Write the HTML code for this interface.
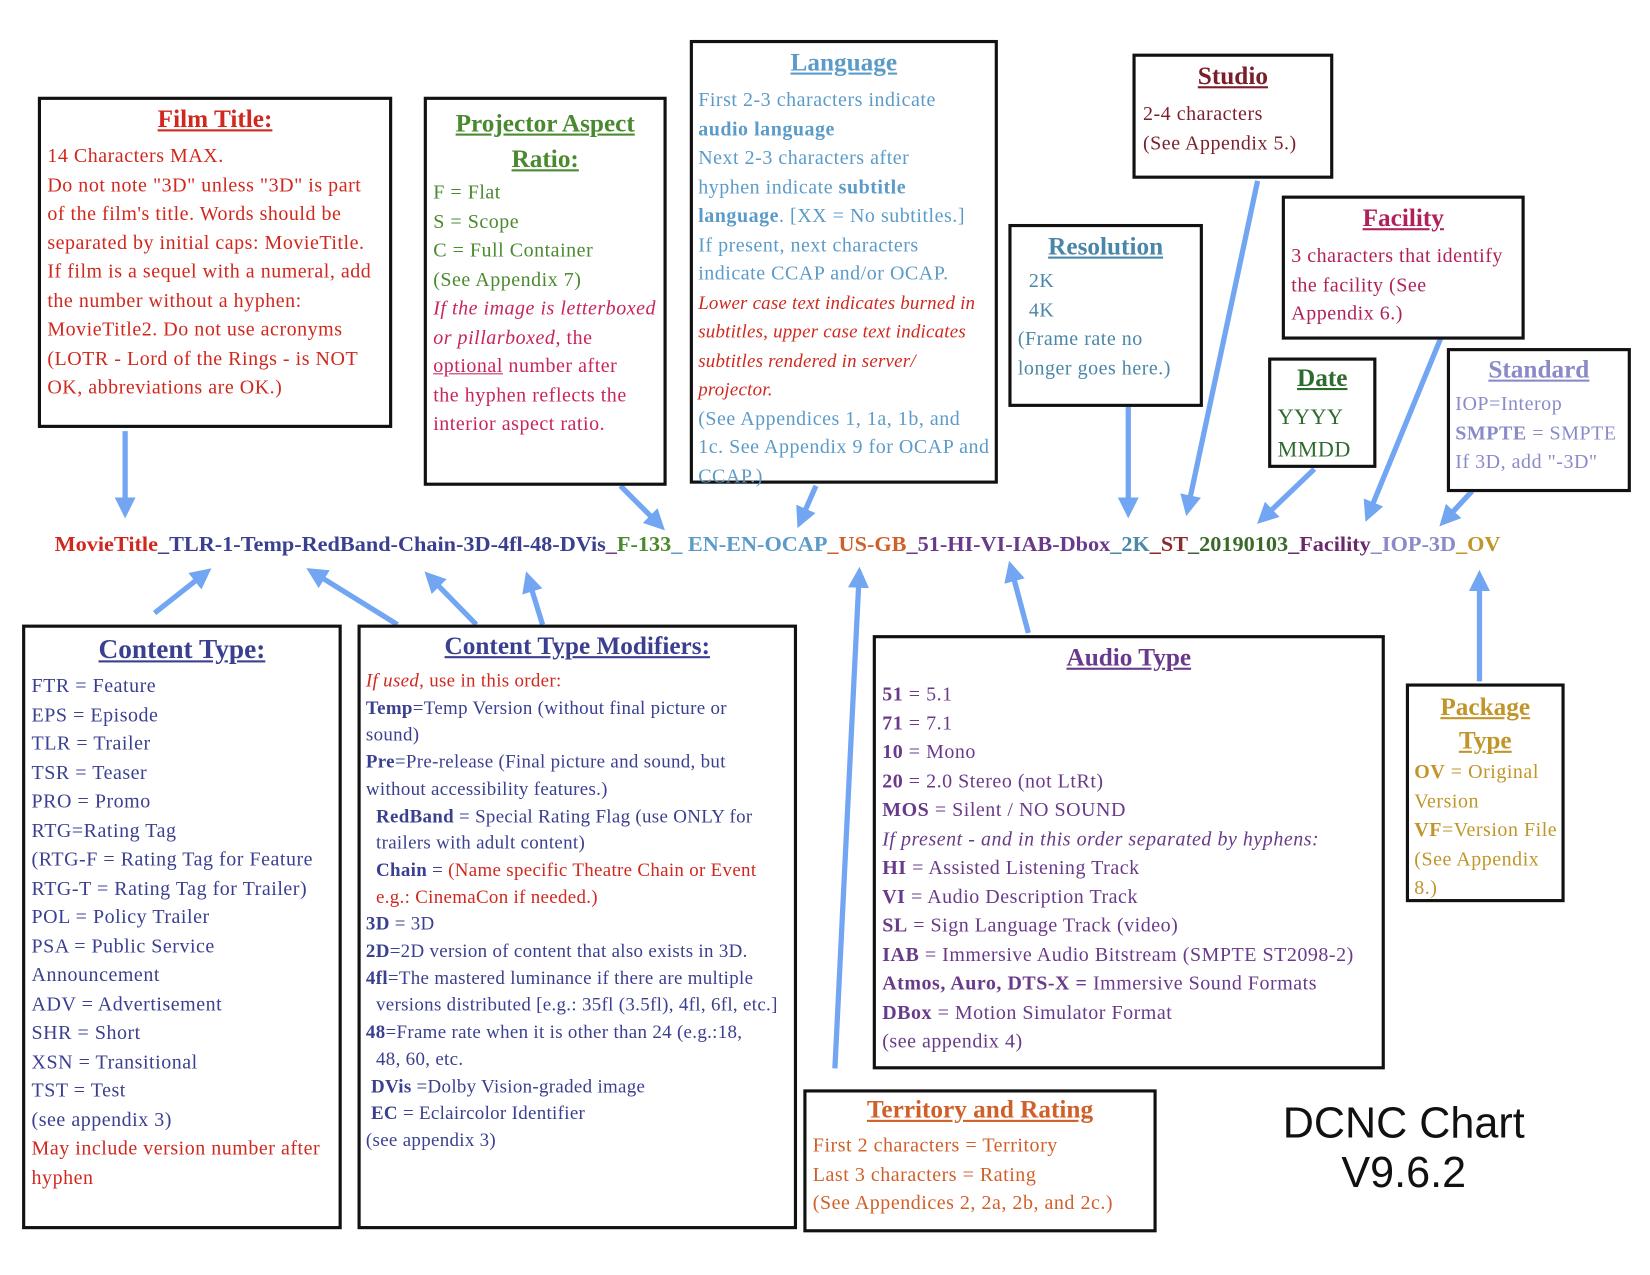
<!DOCTYPE html>
<html><head><meta charset="utf-8"><style>
html,body{margin:0;padding:0;background:#fff;width:1650px;height:1275px;overflow:hidden}
#w{position:absolute;left:0;top:0;width:1560px;height:1205px;transform:scale(1.0515,1.0515);transform-origin:0 0;font-family:"Liberation Serif",serif}
.b{position:absolute;border:3px solid #111;box-sizing:border-box;background:#fff}
.t{position:absolute;white-space:nowrap;font-size:19px;letter-spacing:0.5px;line-height:27.5px}
.h{font-weight:bold;text-decoration:underline;font-size:24px;text-align:center;position:absolute;left:0;right:0}
svg{position:absolute;left:0;top:0}
</style></head><body><div id="w">
<svg width="1560" height="1205" viewBox="0 0 1560 1205">
<defs><marker id="a" markerWidth="4" markerHeight="4" refX="2.2" refY="2" orient="auto" markerUnits="strokeWidth"><path d="M0,0 L4,2 L0,4 z" fill="#72a5f2"/></marker></defs>
<g stroke="#72a5f2" stroke-width="5" fill="none" marker-end="url(#a)">
<line x1="119" y1="410" x2="119" y2="484"/>
<line x1="590" y1="462" x2="626" y2="498"/>
<line x1="776" y1="462" x2="762" y2="494"/>
<line x1="1073" y1="386" x2="1073" y2="484"/>
<line x1="1196" y1="172" x2="1130" y2="482"/>
<line x1="1250" y1="446" x2="1202" y2="492"/>
<line x1="1370" y1="322" x2="1302" y2="488"/>
<line x1="1400" y1="467" x2="1375" y2="494"/>
<line x1="147" y1="583" x2="194" y2="546"/>
<line x1="378" y1="594" x2="299" y2="545"/>
<line x1="453" y1="594" x2="410" y2="550"/>
<line x1="516" y1="594" x2="503" y2="552"/>
<line x1="794" y1="1016" x2="817" y2="548"/>
<line x1="978" y1="602" x2="962" y2="542"/>
<line x1="1407" y1="648" x2="1407" y2="551"/>
</g>
<text x="52" y="524" font-family="Liberation Serif,serif" font-weight="bold" font-size="20" textLength="1375" lengthAdjust="spacingAndGlyphs"><tspan fill="#d0281e">MovieTitle</tspan><tspan fill="#3a3f8f">_TLR-1-Temp-RedBand-Chain-3D-4fl-48-DVis</tspan><tspan fill="#7a3a8a">_</tspan><tspan fill="#4a8a2f">F-133</tspan><tspan fill="#5b9bc8">_ EN-EN-OCAP</tspan><tspan fill="#d0602a">_US-GB</tspan><tspan fill="#6a3a8a">_51-HI-VI-IAB-Dbox</tspan><tspan fill="#4a8aa8">_2K</tspan><tspan fill="#8a2a2a">_ST</tspan><tspan fill="#3a6a2a">_20190103</tspan><tspan fill="#6a2a6a">_Facility</tspan><tspan fill="#8a8ac8">_IOP-3D</tspan><tspan fill="#c0962a">_OV</tspan></text>
</svg>

<div class="b" style="left:36px;top:92px;width:337px;height:315px"><div class="h" style="top:6px;color:#d0281e">Film Title:</div>
<div class="t" style="left:6px;top:40px;color:#d0281e">14 Characters MAX.<br>Do not note "3D" unless "3D" is part<br>of the film's title. Words should be<br>separated by initial caps: MovieTitle.<br>If film is a sequel with a numeral, add<br>the number without a hyphen:<br>MovieTitle2. Do not use acronyms<br>(LOTR - Lord of the Rings - is NOT<br>OK, abbreviations are OK.)</div></div>

<div class="b" style="left:403px;top:92px;width:231px;height:370px"><div class="h" style="top:6px;color:#4a8a2f;line-height:34px">Projector Aspect<br>Ratio:</div>
<div class="t" style="left:6px;top:75px;color:#4a8a2f">F = Flat<br>S =  Scope<br>C = Full Container<br>(See Appendix 7)<br><span style="color:#c8245e"><i>If the image is letterboxed<br>or pillarboxed</i>, the<br><u>optional</u> number after<br>the hyphen reflects the<br>interior aspect ratio.</span></div></div>

<div class="b" style="left:656px;top:38px;width:293px;height:422px"><div class="h" style="top:6px;color:#5b9bc8">Language</div>
<div class="t" style="left:5px;top:41px;color:#5b9bc8">First 2-3 characters indicate<br><b>audio language</b><br>Next 2-3 characters after<br>hyphen indicate <b>subtitle</b><br><b>language</b>. [XX = No subtitles.]<br>If present, next characters<br>indicate CCAP and/or OCAP.<br><i style="color:#d0281e;font-size:18px;letter-spacing:0.2px">Lower case text indicates burned in<br>subtitles, upper case text indicates<br>subtitles rendered in server/<br>projector.</i><br>(See Appendices 1, 1a, 1b, and<br>1c. See Appendix 9 for OCAP and<br>CCAP.)</div></div>

<div class="b" style="left:1077px;top:51px;width:191px;height:119px"><div class="h" style="top:6px;color:#7a1f2a">Studio</div>
<div class="t" style="left:7px;top:41px;color:#7a1f2a">2-4 characters<br>(See Appendix 5.)</div></div>

<div class="b" style="left:959px;top:213px;width:185px;height:174px"><div class="h" style="top:6px;color:#4a86a8">Resolution</div>
<div class="t" style="left:6px;top:38px;color:#4a86a8">&nbsp;&nbsp;2K<br>&nbsp;&nbsp;4K<br>(Frame rate no<br>longer goes here.)</div></div>

<div class="b" style="left:1219px;top:186px;width:231px;height:137px"><div class="h" style="top:6px;color:#b0215a">Facility</div>
<div class="t" style="left:6px;top:41px;color:#b0215a">3 characters that identify<br>the facility (See<br>Appendix 6.)</div></div>

<div class="b" style="left:1206px;top:340px;width:103px;height:105px"><div class="h" style="top:4px;color:#2f6a2f">Date</div>
<div class="t" style="left:6px;top:38px;color:#2f6a2f;font-size:21px;line-height:31px">YYYY<br>MMDD</div></div>

<div class="b" style="left:1376px;top:331px;width:175px;height:137px"><div class="h" style="top:5px;color:#8a8ac8">Standard</div>
<div class="t" style="left:5px;top:37px;color:#8a8ac8">IOP=Interop<br><b>SMPTE</b> = SMPTE<br>If 3D, add "-3D"</div></div>

<div class="b" style="left:21px;top:594px;width:304px;height:575px"><div class="h" style="top:6px;color:#3a3f8f;font-size:26px">Content Type:</div>
<div class="t" style="left:6px;top:42px;color:#3a3f8f">FTR = Feature<br>EPS = Episode<br>TLR = Trailer<br>TSR = Teaser<br>PRO = Promo<br>RTG=Rating Tag<br>(RTG-F = Rating Tag for Feature<br>RTG-T = Rating Tag for Trailer)<br>POL = Policy Trailer<br>PSA = Public Service<br>Announcement<br>ADV = Advertisement<br>SHR = Short<br>XSN = Transitional<br>TST = Test<br>(see appendix 3)<br><span style="color:#d0281e">May include version number after<br>hyphen</span></div></div>

<div class="b" style="left:340px;top:594px;width:418px;height:575px"><div class="h" style="top:5px;color:#3a3f8f">Content Type Modifiers:</div>
<div class="t" style="left:5px;top:38px;color:#3a3f8f;font-size:18px;letter-spacing:0.3px;line-height:25.7px"><i style="color:#d0281e">If used</i><span style="color:#d0281e">, use in this order:</span><br><b>Temp</b>=Temp Version (without final picture or<br>sound)<br><b>Pre</b>=Pre-release (Final picture and sound, but<br>without accessibility features.)<br>&nbsp;&nbsp;<b>RedBand</b> = Special Rating Flag (use ONLY for<br>&nbsp;&nbsp;trailers with adult content)<br>&nbsp;&nbsp;<b>Chain</b> = <span style="color:#d0281e">(Name specific Theatre Chain or Event<br>&nbsp;&nbsp;e.g.: CinemaCon if needed.)</span><br><b>3D</b> = 3D<br><b>2D</b>=2D version of content that also exists in 3D.<br><b>4fl</b>=The mastered luminance if there are multiple<br>&nbsp;&nbsp;versions distributed [e.g.: 35fl (3.5fl), 4fl, 6fl, etc.]<br><b>48</b>=Frame rate when it is other than 24 (e.g.:18,<br>&nbsp;&nbsp;48, 60, etc.<br>&nbsp;<b>DVis</b> =Dolby Vision-graded image<br>&nbsp;<b>EC</b> = Eclaircolor Identifier<br>(see appendix 3)</div></div>

<div class="b" style="left:830px;top:604px;width:487px;height:413px"><div class="h" style="top:6px;color:#6a3a8a">Audio Type</div>
<div class="t" style="left:6px;top:40px;color:#6a3a8a"><b>51</b> = 5.1<br><b>71</b> = 7.1<br><b>10</b> = Mono<br><b>20</b> = 2.0 Stereo (not LtRt)<br><b>MOS</b> = Silent / NO SOUND<br><i>If present - and in this order separated by hyphens:</i><br><b>HI</b> = Assisted Listening Track<br><b>VI</b> = Audio Description Track<br><b>SL</b> = Sign Language Track (video)<br><b>IAB</b> = Immersive Audio Bitstream (SMPTE ST2098-2)<br><b>Atmos, Auro, DTS-X =</b> Immersive Sound Formats<br><b>DBox</b> = Motion Simulator Format<br>(see appendix 4)</div></div>

<div class="b" style="left:764px;top:1036px;width:336px;height:136px"><div class="h" style="top:4px;color:#d0602a">Territory and Rating</div>
<div class="t" style="left:6px;top:37px;color:#d0602a">First 2 characters = Territory<br>Last 3 characters = Rating<br>(See Appendices 2, 2a, 2b, and 2c.)</div></div>

<div class="b" style="left:1337px;top:650px;width:151px;height:208px"><div class="h" style="top:4px;color:#c0962a;line-height:32px">Package<br>Type</div>
<div class="t" style="left:5px;top:68px;color:#c0962a"><b>OV</b> = Original<br>Version<br><b>VF</b>=Version File<br>(See Appendix<br>8.)</div></div>

<div style="position:absolute;left:1185px;top:1045px;width:300px;text-align:center;font-family:'Liberation Sans',sans-serif;font-size:41px;line-height:47px;color:#111">DCNC Chart<br>V9.6.2</div>
</div></body></html>
